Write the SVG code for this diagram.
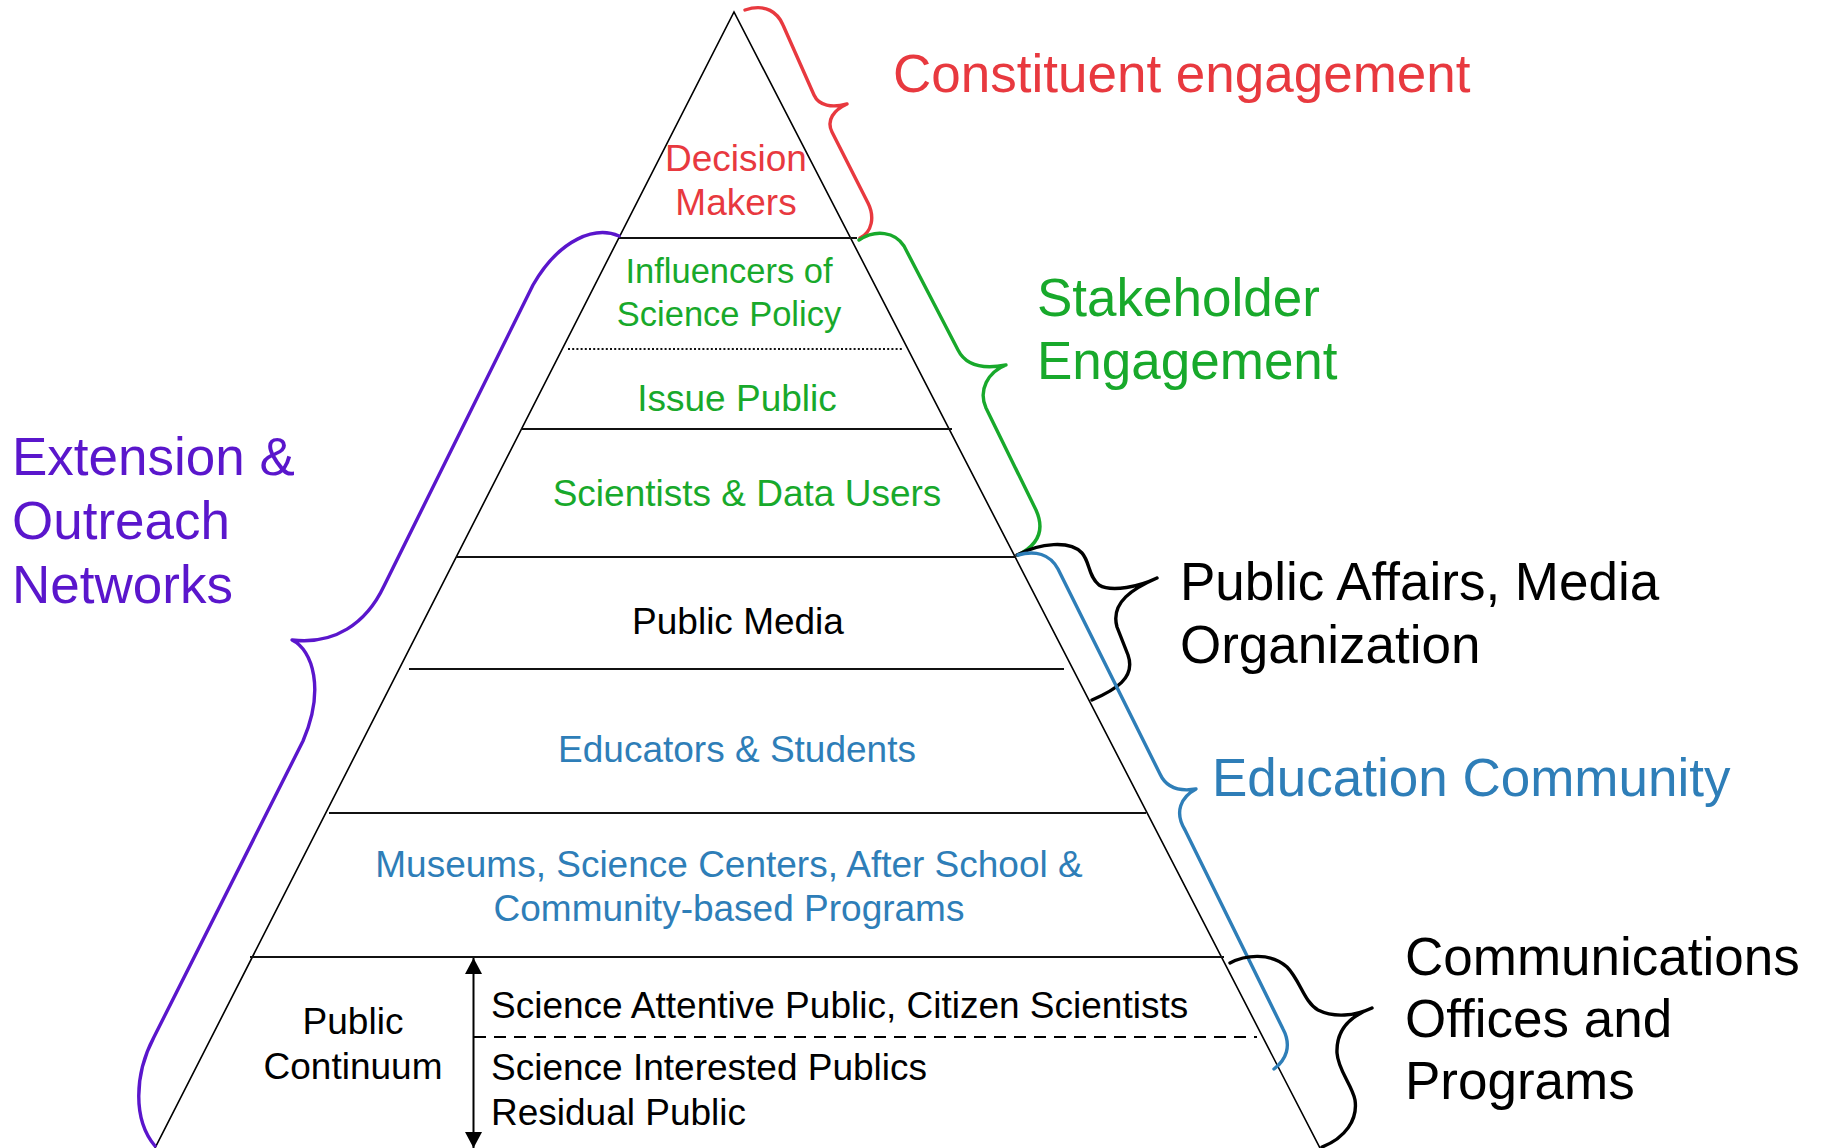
<svg xmlns="http://www.w3.org/2000/svg" width="1821" height="1148" viewBox="0 0 1821 1148">
  <style>
    text { font-family: "Liberation Sans", Arial, sans-serif; }
    .tier { font-size: 37px; text-anchor: middle; }
    .tier.small { font-size: 34.5px; }
    .side { font-size: 53px; }
    .edge { fill: none; stroke: #000; stroke-width: 1.6; }
    .rule { stroke: #111; stroke-width: 2.2; fill: none; }
    .brace { fill: none; stroke-width: 3.4; stroke-linecap: round; stroke-linejoin: round; }
    .red { fill: #E8393F; }
    .green { fill: #18A92B; }
    .purple { fill: #5A16CC; }
    .blue { fill: #2E7EB8; }
    .black { fill: #000; }
  </style>
  <defs>
    <marker id="head" markerUnits="userSpaceOnUse" markerWidth="16" markerHeight="18" refX="16" refY="8.5" orient="auto-start-reverse">
      <path d="M0,0 L16,8.5 L0,17 z" fill="#000"/>
    </marker>
  </defs>
  <rect width="1821" height="1148" fill="#fff"/>

  <!-- pyramid outline and tier dividers -->
  <g id="pyramid">
    <polyline class="edge" points="154,1150 734,12 1321,1150"/>
    <line class="rule" x1="619" y1="238" x2="857" y2="238"/>
    <line class="rule" x1="568" y1="349" x2="903" y2="349" stroke-dasharray="2 2.2" stroke-width="2"/>
    <line class="rule" x1="521" y1="429" x2="952" y2="429"/>
    <line class="rule" x1="456" y1="557" x2="1016" y2="557"/>
    <line class="rule" x1="409" y1="669" x2="1064" y2="669"/>
    <line class="rule" x1="329" y1="813" x2="1146" y2="813"/>
    <line class="rule" x1="250" y1="957" x2="1224" y2="957"/>
  </g>

  <!-- tiers -->
  <g id="tier-decision-makers">
    <text class="tier red" x="736" y="171">Decision</text>
    <text class="tier red" x="736" y="215">Makers</text>
  </g>
  <g id="tier-influencers">
    <text class="tier small green" x="729" y="283">Influencers of</text>
    <text class="tier small green" x="729" y="326">Science Policy</text>
  </g>
  <g id="tier-issue-public">
    <text class="tier green" x="737" y="411">Issue Public</text>
  </g>
  <g id="tier-scientists">
    <text class="tier green" x="747" y="506">Scientists &amp; Data Users</text>
  </g>
  <g id="tier-public-media">
    <text class="tier black" x="738" y="634">Public Media</text>
  </g>
  <g id="tier-educators">
    <text class="tier blue" x="737" y="762">Educators &amp; Students</text>
  </g>
  <g id="tier-museums">
    <text class="tier blue" x="729" y="877">Museums, Science Centers, After School &amp;</text>
    <text class="tier blue" x="729" y="921">Community-based Programs</text>
  </g>
  <g id="tier-public-continuum">
    <text class="tier black" x="353" y="1034">Public</text>
    <text class="tier black" x="353" y="1079">Continuum</text>
    <line x1="473.5" y1="958" x2="473.5" y2="1148" stroke="#000" stroke-width="2" marker-start="url(#head)" marker-end="url(#head)"/>
    <line x1="474" y1="1037" x2="1257" y2="1037" stroke="#000" stroke-width="2" stroke-dasharray="12 8"/>
    <text class="black" x="491" y="1018" font-size="37">Science Attentive Public, Citizen Scientists</text>
    <text class="black" x="491" y="1080" font-size="37">Science Interested Publics</text>
    <text class="black" x="491" y="1125" font-size="37">Residual Public</text>
  </g>

  <!-- braces grouping the tiers -->
  <g id="braces">
    <path class="brace" stroke="#E8393F" d="M745,10 C766,3 778,13 783,25 L814,95 C819,106 832,108 847,104 C834,110 826,120 832,132 L868,203 C875,217 872,232 860,238"/>
    <path class="brace" stroke="#18A92B" d="M859,240 C876,229 895,232 904,246 L958,350 C965,364 980,370 1006,365 C988,372 978,390 986,408 L1036,510 C1045,530 1038,545 1018,555"/>
    <path class="brace" stroke="#5A16CC" d="M619,236 C596,226 560,238 533,285 L384,586 C366,624 334,645 292,640 C313,650 325,690 303,741 L154,1037 C134,1075 133,1120 155,1146"/>
    <path class="brace" stroke="#000" d="M1017,555 C1040,543 1070,540 1082,553 C1090,562 1088,576 1099,585 C1112,593 1140,586 1157,578 C1134,588 1110,602 1117,627 L1128,655 C1136,678 1115,690 1092,700"/>
    <path class="brace" stroke="#2E7EB8" d="M1018,555 C1035,550 1050,554 1058,569 L1160,774 C1166,787 1178,792 1196,789 C1181,797 1174,812 1185,830 L1283,1029 C1292,1046 1286,1060 1274,1069"/>
    <path class="brace" stroke="#000" d="M1230,963 C1245,955 1270,952 1287,967 C1300,980 1304,1002 1318,1010 C1334,1018 1355,1016 1372,1008 C1350,1016 1336,1030 1337,1053 C1338,1070 1352,1085 1355,1100 C1358,1120 1345,1138 1322,1147"/>
  </g>

  <!-- side labels -->
  <g id="label-constituent">
    <text class="side red" x="893" y="92">Constituent engagement</text>
  </g>
  <g id="label-stakeholder">
    <text class="side green" x="1037" y="316">Stakeholder</text>
    <text class="side green" x="1037" y="379">Engagement</text>
  </g>
  <g id="label-extension">
    <text class="side purple" x="12" y="475">Extension &amp;</text>
    <text class="side purple" x="12" y="539">Outreach</text>
    <text class="side purple" x="12" y="603">Networks</text>
  </g>
  <g id="label-public-affairs">
    <text class="side black" x="1180" y="600">Public Affairs, Media</text>
    <text class="side black" x="1180" y="663">Organization</text>
  </g>
  <g id="label-education">
    <text class="side blue" x="1212" y="796">Education Community</text>
  </g>
  <g id="label-communications">
    <text class="side black" x="1405" y="975">Communications</text>
    <text class="side black" x="1405" y="1037">Offices and</text>
    <text class="side black" x="1405" y="1099">Programs</text>
  </g>
</svg>
